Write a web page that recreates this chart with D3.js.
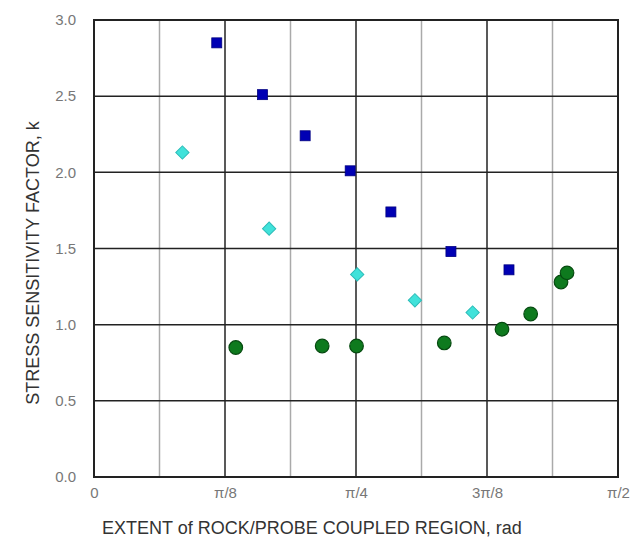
<!DOCTYPE html>
<html>
<head>
<meta charset="utf-8">
<script src="https://cdn.jsdelivr.net/npm/d3@7"></script>
<style>
  body { margin: 0; background: #fff; }
  text { font-family: "Liberation Sans", Arial, sans-serif; }
</style>
</head>
<body>
<div id="stress_chart"></div>
<script>
// squares (blue)
const squareX = [0.368, 0.505, 0.633, 0.768, 0.890, 1.070, 1.244];
const squareY = [2.85, 2.51, 2.24, 2.01, 1.74, 1.48, 1.36];
// diamonds (cyan)
const diamondX = [0.265, 0.525, 0.789, 0.962, 1.135];
const diamondY = [2.13, 1.63, 1.33, 1.16, 1.08];
// circles (green)
const circleX = [0.425, 0.684, 0.787, 1.050, 1.223, 1.309, 1.400, 1.418];
const circleY = [0.85, 0.86, 0.86, 0.88, 0.97, 1.07, 1.28, 1.34];

const xTickValues = [0, Math.PI / 8, Math.PI / 4, 3 * Math.PI / 8, Math.PI / 2];
const xTickLabels = ["0", "\u03c0/8", "\u03c0/4", "3\u03c0/8", "\u03c0/2"];
const xMinorTicks = [Math.PI / 16, 3 * Math.PI / 16, 5 * Math.PI / 16, 7 * Math.PI / 16];
const yTickValues = [0, 0.5, 1.0, 1.5, 2.0, 2.5, 3.0];

const W = 636, H = 547;
const margin = { top: 20, right: 18, bottom: 70, left: 94 };
const width = W - margin.left - margin.right,
  height = H - margin.top - margin.bottom;

const svg = d3.select("#stress_chart")
  .append("svg")
  .attr("width", W)
  .attr("height", H);

const g = svg.append("g")
  .attr("transform", "translate(" + margin.left + "," + margin.top + ")");

const x = d3.scaleLinear().domain([0, Math.PI / 2]).range([0, width]);
const y = d3.scaleLinear().domain([0, 3]).range([height, 0]);

// minor vertical grid (grey)
g.append("g")
  .selectAll("line")
  .data(xMinorTicks)
  .join("line")
  .attr("x1", d => x(d)).attr("x2", d => x(d))
  .attr("y1", 0).attr("y2", height)
  .attr("stroke", "#aaa")
  .attr("stroke-width", 1.5);

// major vertical grid
g.append("g")
  .selectAll("line")
  .data(xTickValues.slice(1, -1))
  .join("line")
  .attr("x1", d => x(d)).attr("x2", d => x(d))
  .attr("y1", 0).attr("y2", height)
  .attr("stroke", "#222")
  .attr("stroke-width", 1.5);

// horizontal grid
g.append("g")
  .selectAll("line")
  .data(yTickValues.slice(1, -1))
  .join("line")
  .attr("x1", 0).attr("x2", width)
  .attr("y1", d => y(d)).attr("y2", d => y(d))
  .attr("stroke", "#222")
  .attr("stroke-width", 1.5);

// frame
g.append("rect")
  .attr("width", width)
  .attr("height", height)
  .attr("fill", "none")
  .attr("stroke", "#222")
  .attr("stroke-width", 2);

// axes (labels only)
const xAxis = g.append("g")
  .attr("transform", "translate(0," + height + ")")
  .call(d3.axisBottom(x).tickValues(xTickValues)
    .tickFormat((d, i) => xTickLabels[i]).tickSize(0).tickPadding(10));
const yAxis = g.append("g")
  .call(d3.axisLeft(y).tickValues(yTickValues)
    .tickFormat(d3.format(".1f")).tickSize(0).tickPadding(18));
[xAxis, yAxis].forEach(a => {
  a.select(".domain").remove();
  a.selectAll("text")
    .attr("fill", "#777")
    .style("font-size", "15px")
    .style("font-family", "'Liberation Sans', Arial, sans-serif");
});

// squares
const sq = 10;
g.append("g")
  .selectAll("rect")
  .data(squareX.map((d, i) => [d, squareY[i]]))
  .join("rect")
  .attr("x", d => x(d[0]) - sq / 2)
  .attr("y", d => y(d[1]) - sq / 2)
  .attr("width", sq).attr("height", sq)
  .attr("fill", "#0000b4")
  .attr("stroke", "#000080")
  .attr("stroke-width", 0.8);

// diamonds
g.append("g")
  .selectAll("path")
  .data(diamondX.map((d, i) => [d, diamondY[i]]))
  .join("path")
  .attr("transform", d => "translate(" + x(d[0]) + "," + y(d[1]) + ") rotate(45)")
  .attr("d", d3.symbol().type(d3.symbolSquare).size(88))
  .attr("fill", "#40e2da")
  .attr("stroke", "#2cbcb8")
  .attr("stroke-width", 1);

// circles
g.append("g")
  .selectAll("circle")
  .data(circleX.map((d, i) => [d, circleY[i]]))
  .join("circle")
  .attr("cx", d => x(d[0]))
  .attr("cy", d => y(d[1]))
  .attr("r", 6.8)
  .attr("fill", "#0e7a1e")
  .attr("stroke", "#064a10")
  .attr("stroke-width", 1.2);

// axis titles
svg.append("text")
  .attr("x", 312)
  .attr("y", 534)
  .attr("text-anchor", "middle")
  .attr("fill", "#333")
  .style("font-size", "18px")
  .text("EXTENT of ROCK/PROBE COUPLED REGION, rad");

svg.append("text")
  .attr("transform", "translate(39,263) rotate(-90)")
  .attr("text-anchor", "middle")
  .attr("fill", "#333")
  .style("font-size", "18px")
  .text("STRESS SENSITIVITY FACTOR, k");
</script>
</body>
</html>
